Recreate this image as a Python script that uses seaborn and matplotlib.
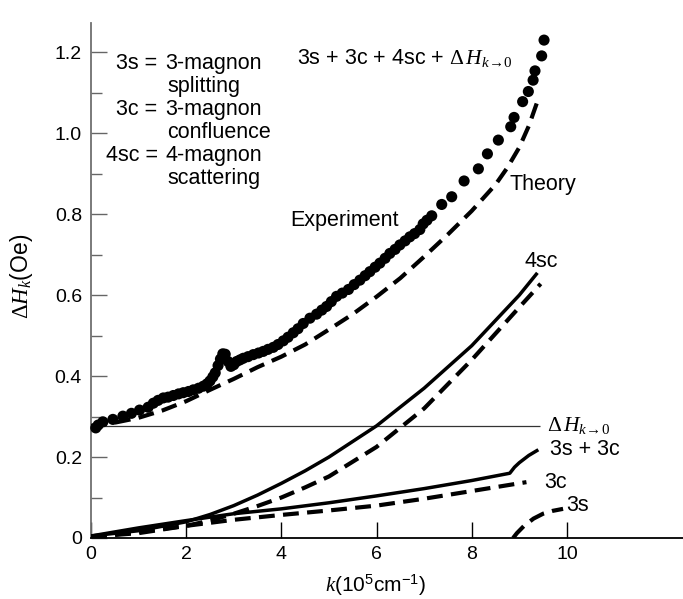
import numpy as np
import pandas as pd
import matplotlib
matplotlib.use("Agg")
import matplotlib.pyplot as plt
from matplotlib.ticker import MultipleLocator, FixedLocator, FixedFormatter
import seaborn as sns

# ---------------- data ----------------
exp_k = [0.10, 0.15, 0.25, 0.46, 0.67, 0.85, 1.02, 1.20, 1.31, 1.41, 1.52, 1.62, 1.73,
         1.84, 1.94, 2.05, 2.15, 2.26, 2.36, 2.44, 2.50, 2.56, 2.61, 2.67, 2.72, 2.77,
         2.82, 2.88, 2.94, 3.00, 3.06, 3.13, 3.20, 3.30, 3.41, 3.52, 3.62, 3.72, 3.83,
         3.93, 4.04, 4.14, 4.25, 4.35, 4.46, 4.60, 4.74, 4.85, 4.95, 5.05, 5.16, 5.28,
         5.41, 5.53, 5.65, 5.76, 5.86, 5.97, 6.07, 6.18, 6.28, 6.39, 6.49, 6.60, 6.70,
         6.80, 6.91, 6.98, 7.06, 7.16, 7.37, 7.58, 7.84, 8.14, 8.33, 8.56, 8.82, 8.89,
         9.07, 9.19, 9.29, 9.33, 9.47, 9.52]
exp_v = [0.272, 0.279, 0.287, 0.293, 0.301, 0.308, 0.316, 0.323, 0.333, 0.340, 0.346, 0.348, 0.352,
         0.356, 0.359, 0.362, 0.366, 0.370, 0.375, 0.381, 0.388, 0.398, 0.408, 0.426, 0.442, 0.455,
         0.454, 0.436, 0.424, 0.428, 0.436, 0.440, 0.444, 0.448, 0.453, 0.457, 0.461, 0.466, 0.471,
         0.478, 0.487, 0.496, 0.507, 0.517, 0.530, 0.543, 0.553, 0.563, 0.572, 0.584, 0.597, 0.605,
         0.614, 0.626, 0.637, 0.648, 0.658, 0.669, 0.679, 0.691, 0.703, 0.713, 0.724, 0.734, 0.744,
         0.752, 0.762, 0.776, 0.785, 0.796, 0.824, 0.843, 0.882, 0.912, 0.949, 0.983, 1.016, 1.039,
         1.078, 1.103, 1.131, 1.154, 1.191, 1.230]

theory_k = [0, 0.5, 1.0, 1.5, 2.0, 2.5, 3.0, 3.5, 4.0, 4.5, 5.0, 5.5, 6.0, 6.5, 7.0,
            7.5, 8.0, 8.5, 8.75, 9.0, 9.2, 9.4]
theory_v = [0.277, 0.285, 0.297, 0.315, 0.338, 0.366, 0.393, 0.422, 0.448, 0.478, 0.515,
            0.553, 0.596, 0.642, 0.695, 0.750, 0.808, 0.873, 0.915, 0.965, 1.018, 1.085]

sc4_solid_k = [0, 1, 2, 2.5, 3, 3.5, 4, 4.5, 5, 6, 7, 8, 9, 9.38]
sc4_solid_v = [0.005, 0.018, 0.040, 0.058, 0.080, 0.106, 0.135, 0.166, 0.200, 0.277,
               0.370, 0.475, 0.600, 0.655]

sc4_dash_k = [0, 1, 2, 2.5, 3, 3.5, 4, 4.5, 5, 6, 7, 8, 9, 9.45]
sc4_dash_v = [0.003, 0.012, 0.030, 0.043, 0.060, 0.079, 0.100, 0.125, 0.152, 0.225,
              0.320, 0.440, 0.570, 0.628]

s3c3_k = [0, 1, 2, 3, 4, 5, 6, 7, 8, 8.8, 8.9, 9.0, 9.2, 9.4]
s3c3_v = [0.005, 0.025, 0.043, 0.060, 0.072, 0.087, 0.104, 0.122, 0.142, 0.160,
          0.175, 0.186, 0.204, 0.218]

c3_k = [0, 1, 2, 3, 4, 5, 6, 7, 8, 9.15]
c3_v = [0.002, 0.015, 0.030, 0.045, 0.057, 0.068, 0.080, 0.097, 0.116, 0.138]

s3_k = [8.87, 8.95, 9.1, 9.3, 9.5, 9.7, 9.92]
s3_v = [0.0, 0.012, 0.030, 0.048, 0.060, 0.067, 0.072]

dh0_k = [0, 9.43]
dh0_v = [0.277, 0.277]

xtick_vals = [0, 2, 4, 6, 8, 10]
xtick_labels = ["0", "2", "4", "6", "8", "10"]
ytick_vals = [0, 0.2, 0.4, 0.6, 0.8, 1.0, 1.2]
ytick_labels = ["0", "0.2", "0.4", "0.6", "0.8", "1.0", "1.2"]

legend_left = ["3s =", "3c =", "4sc ="]
legend_right1 = ["3-magnon", "3-magnon", "4-magnon"]
legend_right2 = ["splitting", "confluence", "scattering"]

# ---------------- style ----------------
sns.set_style("ticks")
plt.rcParams["font.family"] = ["Liberation Sans", "DejaVu Sans"]
plt.rcParams["mathtext.fontset"] = "custom"
plt.rcParams["mathtext.rm"] = "Liberation Serif"
plt.rcParams["mathtext.it"] = "Liberation Serif:italic"
plt.rcParams["mathtext.bf"] = "Liberation Serif:bold"
plt.rcParams["mathtext.sf"] = "Liberation Sans"
plt.rcParams["text.color"] = "black"
plt.rcParams["axes.labelcolor"] = "black"
plt.rcParams["xtick.labelcolor"] = "black"
plt.rcParams["ytick.labelcolor"] = "black"

fig = plt.figure(figsize=(6.83, 5.99), dpi=100)
ax = fig.add_axes([91 / 683, 61 / 599, 592 / 683, 515.3 / 599])

SOLID_LW = 2.5
DASH_LW = 3.0
DASH = (0, (3.8, 2.0))

def line(xs, ys, dashed, lw=None, color="black", z=3):
    df = pd.DataFrame({"k": xs, "v": ys})
    sns.lineplot(data=df, x="k", y="v", ax=ax, sort=False, estimator=None,
                 color=color, lw=lw if lw else (DASH_LW if dashed else SOLID_LW),
                 linestyle=DASH if dashed else "-", zorder=z,
                 solid_capstyle="butt", dash_capstyle="butt",
                 solid_joinstyle="round")

line(dh0_k, dh0_v, False, lw=0.9, color="#333333", z=2)
line(theory_k, theory_v, True)
line(sc4_solid_k, sc4_solid_v, False)
line(sc4_dash_k, sc4_dash_v, True)
line(s3c3_k, s3c3_v, False)
line(c3_k, c3_v, True)
line(s3_k, s3_v, True)

sns.scatterplot(x=exp_k, y=exp_v, ax=ax, color="black", s=64, edgecolor="none",
                linewidth=0, zorder=4, clip_on=False)

ax.set_xlim(0, 12.44)
ax.set_ylim(0, 1.273)

ax.xaxis.set_major_locator(FixedLocator(xtick_vals))
ax.xaxis.set_major_formatter(FixedFormatter(xtick_labels))
ax.yaxis.set_major_locator(FixedLocator(ytick_vals))
ax.yaxis.set_major_formatter(FixedFormatter(ytick_labels))
ax.yaxis.set_minor_locator(MultipleLocator(0.1))

ax.tick_params(axis="x", which="major", direction="in", length=11.5, width=1.0,
               color="black", labelcolor="black", labelsize=14, pad=6)
ax.tick_params(axis="y", which="major", direction="in", length=11.5, width=1.0,
               color="#666666", labelcolor="black", labelsize=14, pad=6.5)
ax.tick_params(axis="y", which="minor", direction="in", length=8, width=1.0,
               color="#666666")

for s in ["top", "right"]:
    ax.spines[s].set_visible(False)
ax.spines["left"].set_color("#707070")
ax.spines["left"].set_linewidth(1.3)
ax.spines["bottom"].set_color("black")
ax.spines["bottom"].set_linewidth(1.3)

ax.set_xlabel(r"$k$(10$^{\mathsf{5}}$cm$^{\mathsf{-1}}$)", fontsize=15, va="center",
              color="black")
ax.xaxis.set_label_coords(0.48, -0.092)
ax.set_ylabel(r"$\Delta H_k$(Oe)", fontsize=16.5, va="center", color="black")
ax.yaxis.set_label_coords(-0.117, 0.508)

FS = 15.5
LINE_GAP = 0.057
ys = [1.173, 1.059, 0.944]
for lt, r1, r2, y in zip(legend_left, legend_right1, legend_right2, ys):
    ax.text(1.40, y, lt, ha="right", va="center", fontsize=FS, color="black")
    ax.text(1.56, y, r1, ha="left", va="center", fontsize=FS, color="black")
    ax.text(1.61, y - LINE_GAP, r2, ha="left", va="center", fontsize=FS, color="black")

ax.text(4.32, 1.185, r"3s + 3c + 4sc + $\Delta\,H_{k\!\rightarrow\!0}$", ha="left",
        va="center", fontsize=FS, color="black")
ax.text(4.18, 0.784, "Experiment", ha="left", va="center", fontsize=FS, color="black")
ax.text(8.80, 0.873, "Theory", ha="left", va="center", fontsize=FS, color="black")
ax.text(9.47, 0.684, "4sc", ha="center", va="center", fontsize=FS, color="black")
ax.text(9.59, 0.277, r"$\Delta\,H_{k\!\rightarrow\!0}$", ha="left", va="center",
        fontsize=FS, color="black")
ax.text(9.65, 0.218, "3s + 3c", ha="left", va="center", fontsize=FS, color="black")
ax.text(9.52, 0.138, "3c", ha="left", va="center", fontsize=FS, color="black")
ax.text(9.98, 0.080, "3s", ha="left", va="center", fontsize=FS, color="black")

fig.savefig("out.png", dpi=100)
